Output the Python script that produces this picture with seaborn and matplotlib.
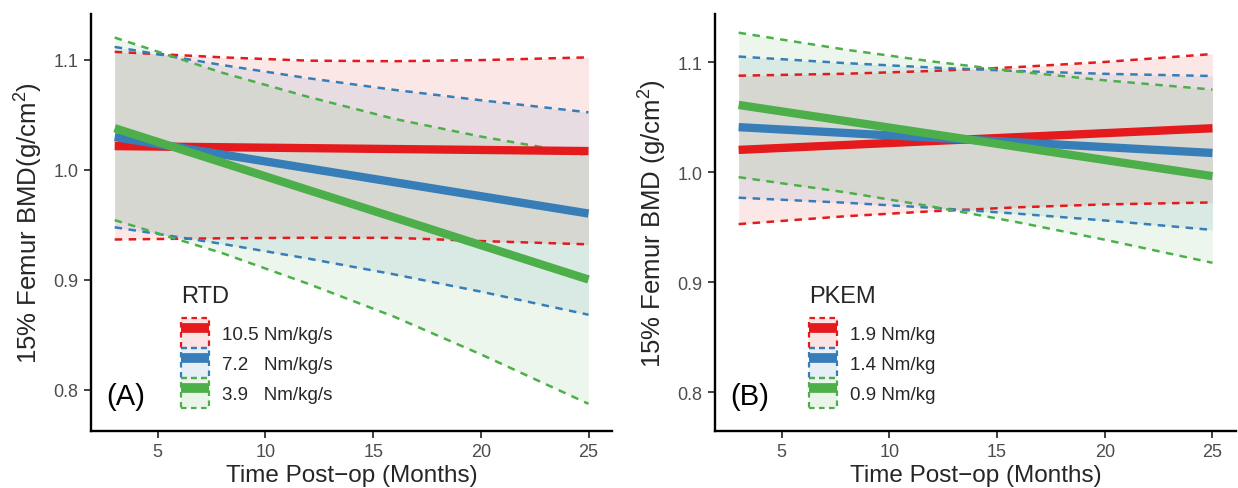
import matplotlib
matplotlib.use("Agg")
import matplotlib.pyplot as plt
from matplotlib.patches import Patch
from matplotlib.lines import Line2D
from matplotlib.legend_handler import HandlerTuple
import pandas as pd
import seaborn as sns

# ---- data -------------------------------------------------------------
months_fit = [3, 25]
months_band = [3, 8, 12, 16, 20, 25]

# Panel A: rate of torque development (RTD)
rtd_labels = ["10.5 Nm/kg/s", "7.2   Nm/kg/s", "3.9   Nm/kg/s"]
rtd_hi_fit = [1.0213, 1.0168]
rtd_hi_upper = [1.107, 1.102, 1.099, 1.0985, 1.0995, 1.102]
rtd_hi_lower = [0.9364, 0.9375, 0.9380, 0.9379, 0.935, 0.932]
rtd_mid_fit = [1.0295, 0.960]
rtd_mid_upper = [1.1115, 1.095, 1.083, 1.0724, 1.063, 1.052]
rtd_mid_lower = [0.9475, 0.9324, 0.919, 0.9046, 0.889, 0.868]
rtd_lo_fit = [1.0376, 0.900]
rtd_lo_upper = [1.120, 1.088, 1.066, 1.046, 1.030, 1.013]
rtd_lo_lower = [0.954, 0.924, 0.896, 0.866, 0.832, 0.787]

# Panel B: peak knee extension moment (PKEM)
pkem_labels = ["1.9 Nm/kg", "1.4 Nm/kg", "0.9 Nm/kg"]
pkem_hi_fit = [1.0203, 1.040]
pkem_hi_upper = [1.0878, 1.0896, 1.0921, 1.0957, 1.1003, 1.1075]
pkem_hi_lower = [0.9528, 0.960, 0.9645, 0.9681, 0.9707, 0.9725]
pkem_mid_fit = [1.041, 1.0175]
pkem_mid_upper = [1.1052, 1.0992, 1.0952, 1.092, 1.0895, 1.0875]
pkem_mid_lower = [0.9768, 0.9722, 0.9676, 0.9622, 0.9561, 0.9475]
pkem_lo_fit = [1.0612, 0.9964]
pkem_lo_upper = [1.1269, 1.1114, 1.1007, 1.0915, 1.0836, 1.0752]
pkem_lo_lower = [0.9955, 0.9816, 0.9687, 0.9543, 0.9386, 0.9176]

x_ticks = [5, 10, 15, 20, 25]
y_ticks = [0.8, 0.9, 1.0, 1.1]
colors = ["#E41A1C", "#377EB8", "#4DAF4A"]

# ---- style ------------------------------------------------------------
sns.set_theme(style="white")
plt.rcParams["font.family"] = ["Liberation Sans", "DejaVu Sans"]
plt.rcParams["mathtext.fontset"] = "custom"
plt.rcParams["mathtext.rm"] = "Liberation Sans"
plt.rcParams["mathtext.it"] = "Liberation Sans:italic"
plt.rcParams["axes.unicode_minus"] = True

FILL_ALPHA = 0.10
FIT_LW = 6.0
CI_LW = 1.8
CI_DASH = (0, (3.0, 2.6))


def long_frame(x, series, labels):
    rows = []
    for lab, vals in zip(labels, series):
        for xi, yi in zip(x, vals):
            rows.append({"month": xi, "bmd": yi, "level": lab})
    return pd.DataFrame(rows)


def draw_panel(ax, labels, fits, uppers, lowers, legend_title, tag, ylim,
               ylabel, leg_x):
    palette = dict(zip(labels, colors))
    # confidence ribbons
    for lab, up, lo in zip(labels, uppers, lowers):
        ax.fill_between(months_band, lo, up, color=palette[lab],
                        alpha=FILL_ALPHA, linewidth=0)
    # dashed ribbon borders
    for bounds in (uppers, lowers):
        sns.lineplot(data=long_frame(months_band, bounds, labels), x="month",
                     y="bmd", hue="level", palette=palette, hue_order=labels,
                     linewidth=CI_LW, linestyle=CI_DASH, legend=False, ax=ax)
    # fitted lines
    sns.lineplot(data=long_frame(months_fit, fits, labels), x="month",
                 y="bmd", hue="level", palette=palette, hue_order=labels,
                 linewidth=FIT_LW, legend=False, ax=ax,
                 solid_capstyle="butt")

    ax.set_xlim(1.9, 26.1)
    ax.set_ylim(*ylim)
    ax.set_xticks(x_ticks)
    ax.set_yticks(y_ticks)
    ax.set_xticklabels([str(v) for v in x_ticks])
    ax.set_yticklabels([f"{v:.1f}" for v in y_ticks])
    ax.tick_params(axis="both", labelsize=13, labelcolor="#4D4D4D",
                   color="#333333", length=5, width=1.3, pad=4,
                   bottom=True, left=True)
    for side in ("top", "right"):
        ax.spines[side].set_visible(False)
    for side in ("left", "bottom"):
        ax.spines[side].set_color("black")
        ax.spines[side].set_linewidth(1.7)
    ax.set_xlabel("Time Post\u2212op (Months)", fontsize=17.5, labelpad=3)
    ax.set_ylabel(ylabel, fontsize=18.5, labelpad=6)

    # legend keys: ribbon box with dashed outline under a thick line
    handles = []
    for lab in labels:
        c = palette[lab]
        box = Patch(facecolor=(*matplotlib.colors.to_rgb(c), 0.12),
                    edgecolor=c, linewidth=1.6, linestyle=(0, (2.5, 2.0)))
        line = Line2D([], [], color=c, linewidth=7, solid_capstyle="butt")
        handles.append((box, line))
    leg = ax.legend(handles, labels, title=legend_title, loc="upper left",
                    bbox_to_anchor=(leg_x, 0.35), frameon=False,
                    fontsize=13.5, title_fontsize=17, handlelength=1.5,
                    handleheight=2.08, labelspacing=0.0, handletextpad=0.7,
                    borderpad=0, borderaxespad=0, alignment="left",
                    handler_map={tuple: HandlerTuple(ndivide=1, pad=0)})
    leg._legend_box.sep = 8
    ax.text(0.066, 0.083, tag, transform=ax.transAxes, fontsize=21,
            ha="center", va="center", color="black")


fig = plt.figure(figsize=(12.38, 4.89), dpi=100)
ax_a = fig.add_axes([0.0735, 0.1175, 0.421, 0.852])
ax_b = fig.add_axes([0.5775, 0.1175, 0.421, 0.852])

draw_panel(ax_a, rtd_labels,
           [rtd_hi_fit, rtd_mid_fit, rtd_lo_fit],
           [rtd_hi_upper, rtd_mid_upper, rtd_lo_upper],
           [rtd_hi_lower, rtd_mid_lower, rtd_lo_lower],
           "RTD", "(A)", (0.7627, 1.1415),
           "15% Femur BMD(g/cm$^2$)", 0.172)
draw_panel(ax_b, pkem_labels,
           [pkem_hi_fit, pkem_mid_fit, pkem_lo_fit],
           [pkem_hi_upper, pkem_mid_upper, pkem_lo_upper],
           [pkem_hi_lower, pkem_mid_lower, pkem_lo_lower],
           "PKEM", "(B)", (0.765, 1.144),
           "15% Femur BMD (g/cm$^2$)", 0.180)

fig.savefig("out.png", dpi=100)
